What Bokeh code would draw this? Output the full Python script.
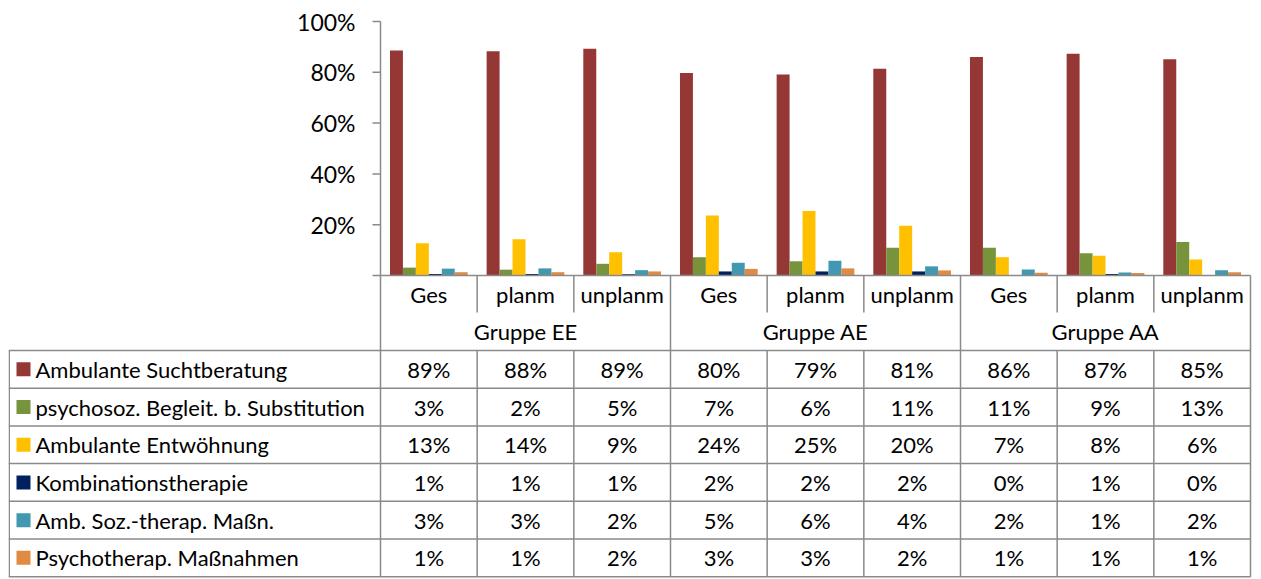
from bokeh.plotting import figure
from bokeh.models import Range1d, ColumnDataSource
from bokeh.transform import dodge
from bokeh.core.properties import value
from bokeh.embed import file_html
from bokeh.resources import INLINE

# ---------------- data ----------------
groups = ["Gruppe EE", "Gruppe AE", "Gruppe AA"]
subgroups = ["Ges", "planm", "unplanm"]
series_names = [
    "Ambulante Suchtberatung",
    "psychosoz. Begleit. b. Substitution",
    "Ambulante Entwöhnung",
    "Kombinationstherapie",
    "Amb.  Soz.-therap. Maßn.",
    "Psychotherap. Maßnahmen",
]
suchtberatung = [88.6, 88.3, 89.3, 79.7, 79.1, 81.4, 86.0, 87.3, 85.1]
begleitung = [3.1, 2.3, 4.6, 7.2, 5.6, 10.9, 10.9, 8.8, 13.2]
entwoehnung = [12.7, 14.3, 9.2, 23.6, 25.4, 19.6, 7.2, 7.8, 6.3]
kombination = [0.6, 0.6, 0.5, 1.6, 1.6, 1.6, 0.2, 0.6, 0.2]
soztherap = [2.7, 2.8, 2.1, 5.0, 5.8, 3.6, 2.4, 1.2, 2.1]
psychotherap = [1.3, 1.3, 1.6, 2.6, 2.8, 2.0, 1.1, 1.0, 1.3]
y_ticks = [0, 20, 40, 60, 80, 100]

series_values = [suchtberatung, begleitung, entwoehnung, kombination, soztherap, psychotherap]
colors = ["#953735", "#77933C", "#FFC000", "#002060", "#4198B0", "#E08A44"]

FONT = "Lato"
GRID = "#8a8a8a"
TXT = "22px"

cats = [(g, s) for g in groups for s in subgroups]
n_cat = len(cats)

# ---------------- geometry helpers (layout only, page pixels) ----------------
W, H = 1261, 579
AX_X = 380          # value axis / first category boundary
RIGHT = 1250        # last category boundary
BASE_Y = 275        # 0 % line
TOP_Y = 21          # 100 % line
unit = (RIGHT - AX_X) / n_cat
ppp = (BASE_Y - TOP_Y) / 100.0


def px(xpage):
    return (xpage - AX_X) / unit


def py(ypage):
    return (BASE_Y - ypage) / ppp


FL, FR = 8, 1252     # frame left / right in page px
p = figure(width=W, height=H,
           x_range=Range1d(px(FL), px(FR)), y_range=Range1d(py(H), py(0)),
           x_axis_location=None, y_axis_location=None,
           toolbar_location=None, output_backend="svg",
           min_border_left=FL, min_border_right=W - FR, min_border_top=0, min_border_bottom=0,
           outline_line_color=None, background_fill_color="white", border_fill_color="white")
p.grid.visible = False

# ---------------- bars ----------------
src = ColumnDataSource(dict(xc=[k + 0.5 for k in range(n_cat)],
                            **{f"s{i}": v for i, v in enumerate(series_values)}))
bw = 0.134
for i, c in enumerate(colors):
    off = (i - (len(colors) - 1) / 2) * bw
    p.vbar(x=dodge("xc", off), top=f"s{i}", width=bw, bottom=0,
           source=src, fill_color=c, line_color=None)

# ---------------- value axis ----------------
p.segment(x0=[0], y0=[0], x1=[0], y1=[100], line_color=GRID, line_width=1.5)
p.segment(x0=[px(AX_X - 8)] * len(y_ticks), y0=y_ticks, x1=[0] * len(y_ticks), y1=y_ticks,
          line_color=GRID, line_width=1.5)
lab_t = [t for t in y_ticks if t != 0]
p.text(x=[px(355)] * len(lab_t), y=lab_t, text=[f"{t}%" for t in lab_t],
       text_font=value(FONT), text_font_size="23px", text_color="black",
       text_align="right", text_baseline="middle")

# ---------------- data table ----------------
CAT_B = 312          # bottom of sub-category row
GRP_B = 350          # bottom of group row
ROW_H = 37.7
rows_b = [GRP_B + (r + 1) * ROW_H for r in range(len(series_names))]
BOT = rows_b[-1]

x0s, y0s, x1s, y1s = [], [], [], []


def seg(a, b, c, d):
    x0s.append(a); y0s.append(py(b)); x1s.append(c); y1s.append(py(d))


seg(0, BASE_Y, n_cat, BASE_Y)          # category axis line
for k in range(n_cat + 1):
    if k % 3 == 0:
        seg(k, BASE_Y, k, BOT)
    else:
        seg(k, BASE_Y, k, CAT_B)
        seg(k, GRP_B, k, BOT)
seg(px(8.75), GRP_B, px(8.75), BOT)
for yy in [GRP_B] + rows_b:
    seg(px(8), yy, n_cat, yy)
p.segment(x0=x0s, y0=y0s, x1=x1s, y1=y1s, line_color=GRID, line_width=1.5)

# category labels
p.text(x=[k + 0.5 for k in range(n_cat)], y=[py((BASE_Y + CAT_B) / 2)] * n_cat,
       text=[s for _, s in cats], text_font=value(FONT), text_font_size=TXT,
       text_align="center", text_baseline="middle", text_color="black")
# group labels
p.text(x=[3 * g + 1.5 for g in range(len(groups))], y=[py((CAT_B + GRP_B) / 2)] * len(groups),
       text=groups, text_font=value(FONT), text_font_size=TXT,
       text_align="center", text_baseline="middle", text_color="black")

# legend keys and names
row_y = [py(GRP_B + (r + 0.5) * ROW_H) for r in range(len(series_names))]
p.scatter(x=[px(23)] * len(series_names), y=row_y, marker="square", size=14,
          fill_color=colors, line_color=None)
p.text(x=[px(35)] * len(series_names), y=row_y, text=series_names,
       text_font=value(FONT), text_font_size=TXT,
       text_align="left", text_baseline="middle", text_color="black")

# values
vx, vy, vt = [], [], []
for r, vals in enumerate(series_values):
    for k, v in enumerate(vals):
        vx.append(k + 0.5)
        vy.append(row_y[r])
        vt.append(f"{int(v + 0.5)}%")
p.text(x=vx, y=vy, text=vt, text_font=value(FONT), text_font_size=TXT,
       text_align="center", text_baseline="middle", text_color="black")

open("out.html", "w").write(file_html(p, INLINE))
